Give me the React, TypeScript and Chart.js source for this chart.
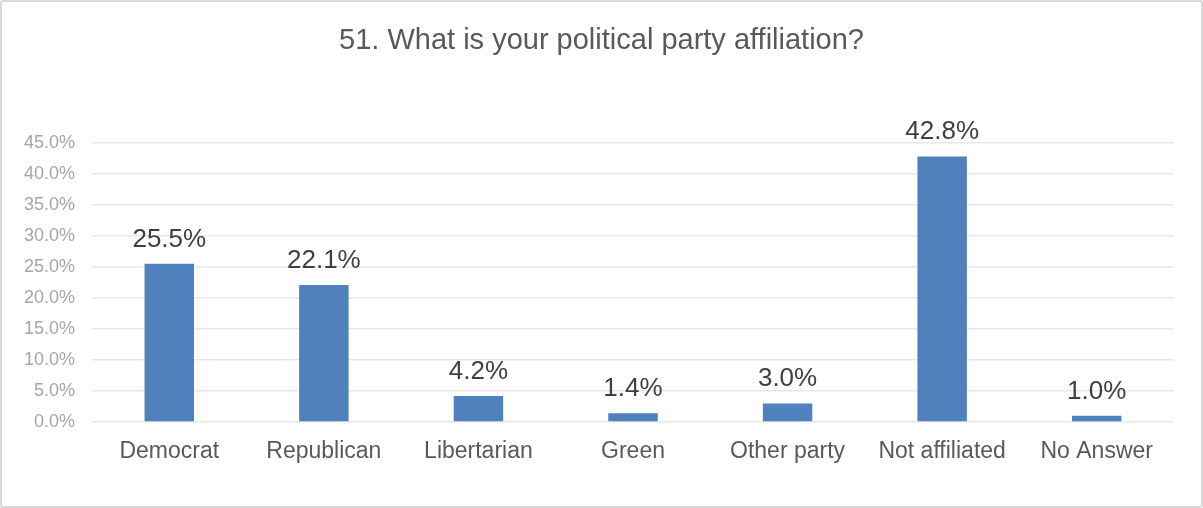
import React, { useEffect, useRef } from "react";
import { Chart, registerables } from "chart.js";

Chart.register(...registerables);

const TITLE = "51. What is your political party affiliation?";
const categories = ["Democrat", "Republican", "Libertarian", "Green", "Other party", "Not affiliated", "No Answer"];
const shares = [25.5, 22.1, 4.2, 1.4, 3.0, 42.8, 1.0];
const yMin = 0;
const yMax = 45;
const yStep = 5;

const FONT = "'Liberation Sans', Arial, sans-serif";

const dataLabelPlugin = {
  id: "dataLabels",
  afterDatasetsDraw(chart: any) {
    const ctx = chart.ctx;
    const meta = chart.getDatasetMeta(0);
    ctx.save();
    ctx.font = `26px ${FONT}`;
    ctx.fillStyle = "#404040";
    ctx.textAlign = "center";
    ctx.textBaseline = "alphabetic";
    meta.data.forEach((bar: any, i: number) => {
      const v = chart.data.datasets[0].data[i] as number;
      ctx.fillText(v.toFixed(1) + "%", bar.x, bar.y - 17);
    });
    ctx.restore();
  },
};

export default function App() {
  const ref = useRef<HTMLCanvasElement | null>(null);

  useEffect(() => {
    if (!ref.current) return;
    const chart = new Chart(ref.current, {
      type: "bar",
      data: {
        labels: categories,
        datasets: [
          {
            data: shares,
            backgroundColor: "#4F81BD",
            borderWidth: 0,
            barPercentage: 0.32,
            categoryPercentage: 1,
          },
        ],
      },
      options: {
        animation: false,
        responsive: false,
        maintainAspectRatio: false,
        layout: { padding: { top: 0, right: 0, bottom: 0, left: 0 } },
        plugins: {
          legend: { display: false },
          tooltip: { enabled: false },
          title: {
            display: true,
            text: TITLE,
            color: "#595959",
            font: { family: FONT, size: 29, weight: "normal" },
            padding: { top: 24, bottom: 84 },
          },
        },
        scales: {
          x: {
            grid: { display: false, drawTicks: false },
            border: { display: false },
            ticks: {
              color: "#595959",
              font: { family: FONT, size: 23 },
              padding: 16,
              maxRotation: 0,
              autoSkip: false,
            },
            afterFit(scale: any) {
              scale.height = 86;
            },
          },
          y: {
            min: yMin,
            max: yMax,
            grid: { color: "#e8e8e8", lineWidth: 1.5, drawTicks: false },
            border: { display: false },
            ticks: {
              stepSize: yStep,
              color: "#a6a6a6",
              font: { family: FONT, size: 18 },
              padding: 17,
              callback: (v: any) => Number(v).toFixed(1) + "%",
            },
            afterFit(scale: any) {
              scale.width = 92;
            },
          },
          yRight: {
            position: "right",
            min: yMin,
            max: yMax,
            grid: { display: false, drawTicks: false },
            border: { display: false },
            ticks: { display: false },
            afterFit(scale: any) {
              scale.width = 29;
            },
          },
        },
      },
      plugins: [dataLabelPlugin],
    });
    return () => chart.destroy();
  }, []);

  return (
    <div
      style={{
        position: "fixed",
        left: 0,
        top: 0,
        width: 1203,
        height: 508,
        background: "#ffffff",
      }}
    >
      <canvas ref={ref} width={1203} height={508} style={{ position: "absolute", left: 0, top: 0 }} />
      <div
        style={{
          position: "absolute",
          inset: 0,
          border: "2px solid #d9d9d9",
          borderRadius: 3,
          boxSizing: "border-box",
          pointerEvents: "none",
        }}
      />
    </div>
  );
}
